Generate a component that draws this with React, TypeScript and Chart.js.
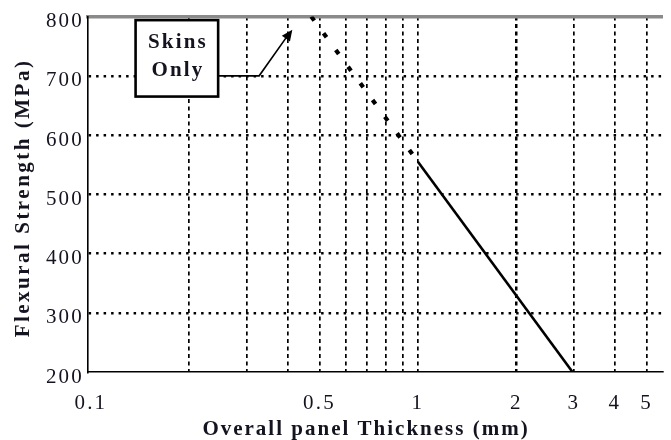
import React, { useEffect, useRef } from "react";
import { Chart, registerables } from "chart.js";

Chart.register(...registerables);

// ---- data ----
const xTickValues = [0.1, 0.2, 0.3, 0.4, 0.5, 0.6, 0.7, 0.8, 0.9, 1, 2, 3, 4, 5];
const xLabelled = [0.1, 0.5, 1, 2, 3, 4, 5];
const yTickValues = [200, 300, 400, 500, 600, 700, 800];
const solidX = [1, 2.97];
const solidY = [555, 200];
const dottedX = [0.472, 1];
const dottedY = [800, 555];
const noteLines = ["Skins", "Only"];
const noteBoxX = [0.137, 0.245];
const noteBoxY = [665, 794];
const leaderX = [0.245, 0.327, 0.413];
const leaderY = [700, 700, 778];
const xTitle = "Overall panel Thickness (mm)";
const yTitle = "Flexural Strength (MPa)";

const X_MIN = 0.098;
const X_MAX = 5.6;
const SERIF = '"Liberation Serif", "Times New Roman", serif';
const TEXT = "#141420";

const spacingPlugin = {
  id: "spacing",
  beforeDraw(chart: any) {
    chart.ctx.letterSpacing = "2.2px";
  },
};

const annotPlugin = {
  id: "annot",
  afterDatasetsDraw(chart: any) {
    const { ctx, scales } = chart;
    const xs = scales.x;
    const ys = scales.y;
    const l = xs.getPixelForValue(noteBoxX[0]);
    const r = xs.getPixelForValue(noteBoxX[1]);
    const t = ys.getPixelForValue(noteBoxY[1]);
    const b = ys.getPixelForValue(noteBoxY[0]);
    ctx.save();
    ctx.fillStyle = "#fff";
    ctx.fillRect(l, t, r - l, b - t);
    ctx.strokeStyle = "#000";
    ctx.lineWidth = 2.6;
    ctx.strokeRect(l, t, r - l, b - t);
    ctx.fillStyle = TEXT;
    ctx.font = `bold 21px ${SERIF}`;
    ctx.letterSpacing = "2.2px";
    ctx.textAlign = "center";
    ctx.textBaseline = "middle";
    const cx = (l + r) / 2 + 1.1;
    const h = b - t;
    ctx.fillText(noteLines[0], cx, t + h * 0.3);
    ctx.fillText(noteLines[1], cx, t + h * 0.66);
    // leader line
    const pts = leaderX.map((v, i) => [xs.getPixelForValue(v), ys.getPixelForValue(leaderY[i])]);
    ctx.lineWidth = 1.6;
    ctx.beginPath();
    ctx.moveTo(pts[0][0], pts[0][1]);
    ctx.lineTo(pts[1][0], pts[1][1]);
    ctx.lineTo(pts[2][0] - 4, pts[2][1] + 5);
    ctx.stroke();
    const [tx, ty] = pts[2];
    const ang = Math.atan2(pts[2][1] - pts[1][1], pts[2][0] - pts[1][0]);
    const len = 11;
    const wid = 5;
    ctx.fillStyle = "#000";
    ctx.beginPath();
    ctx.moveTo(tx, ty);
    ctx.lineTo(tx - len * Math.cos(ang) + wid * Math.sin(ang), ty - len * Math.sin(ang) - wid * Math.cos(ang));
    ctx.lineTo(tx - len * Math.cos(ang) - wid * Math.sin(ang), ty - len * Math.sin(ang) + wid * Math.cos(ang));
    ctx.closePath();
    ctx.fill();
    ctx.restore();
  },
  afterDraw(chart: any) {
    const { ctx } = chart;
    ctx.save();
    ctx.fillStyle = TEXT;
    ctx.font = `bold 21px ${SERIF}`;
    ctx.letterSpacing = "2px";
    ctx.textAlign = "center";
    ctx.textBaseline = "middle";
    ctx.fillText(xTitle, 366, 430);
    ctx.translate(24, 198);
    ctx.rotate(-Math.PI / 2);
    ctx.letterSpacing = "2.5px";
    ctx.fillText(yTitle, 0, 0);
    ctx.restore();
  },
};

export default function App() {
  const ref = useRef<HTMLCanvasElement | null>(null);

  useEffect(() => {
    if (!ref.current) return;
    const chart = new Chart(ref.current, {
      type: "line",
      data: {
        datasets: [
          {
            label: "Panel",
            data: solidX.map((x, i) => ({ x, y: solidY[i] })),
            borderColor: "#000",
            borderWidth: 2.6,
            pointRadius: 0,
            fill: false,
          },
          {
            label: "Skins only",
            data: dottedX.map((x, i) => ({ x, y: dottedY[i] })),
            borderColor: "#000",
            borderWidth: 4.2,
            borderDash: [5, 15.7],
            borderCapStyle: "butt",
            pointRadius: 0,
            fill: false,
          },
        ],
      },
      options: {
        animation: false,
        responsive: true,
        maintainAspectRatio: false,
        layout: { padding: { top: 15, right: 0, bottom: 0, left: 0 } },
        plugins: {
          legend: { display: false },
          tooltip: { enabled: false },
          title: { display: false },
        },
        scales: {
          x: {
            type: "logarithmic",
            position: "bottom",
            min: X_MIN,
            max: X_MAX,
            afterBuildTicks: (s: any) => {
              s.ticks = xTickValues.map((v) => ({ value: v }));
            },
            afterFit: (s: any) => {
              s.height = 68;
            },
            ticks: {
              autoSkip: false,
              maxRotation: 0,
              minRotation: 0,
              padding: 19,
              color: TEXT,
              font: { family: SERIF, size: 21 },
              callback: (v: any) => (xLabelled.includes(Number(v)) ? String(v) : ""),
            },
            grid: {
              drawTicks: false,
              color: (c: any) => (c.tick && c.tick.value === 0.1 ? "rgba(0,0,0,0)" : "#000"),
              lineWidth: (c: any) => (c.tick && c.tick.value === 2 ? 2.5 : 1.7),
            },
            border: { display: true, color: "#000", width: 1.6, dash: [4, 3.5] },
          },
          x2: {
            type: "logarithmic",
            position: "top",
            min: X_MIN,
            max: X_MAX,
            afterFit: (s: any) => {
              s.height = 0;
            },
            ticks: { display: false },
            grid: { display: false, drawTicks: false },
            border: { display: true, color: "#8a8a8a", width: 3.5 },
          },
          y: {
            type: "linear",
            min: 200,
            max: 800,
            afterBuildTicks: (s: any) => {
              s.ticks = yTickValues.map((v) => ({ value: v }));
            },
            afterFit: (s: any) => {
              s.width = 88;
            },
            ticks: {
              padding: 4,
              labelOffset: 5,
              color: TEXT,
              font: { family: SERIF, size: 21 },
            },
            grid: {
              drawTicks: false,
              color: (c: any) =>
                c.tick && (c.tick.value === 200 || c.tick.value === 800) ? "rgba(0,0,0,0)" : "#000",
              lineWidth: 2.5,
            },
            border: { display: true, color: "#000", width: 1.6, dash: [2.5, 5] },
          },
        },
      },
      plugins: [spacingPlugin, annotPlugin],
    } as any);
    return () => chart.destroy();
  }, []);

  return (
    <div style={{ position: "fixed", left: 0, top: 0, width: 671, height: 440, background: "#fff" }}>
      <canvas ref={ref} />
    </div>
  );
}
